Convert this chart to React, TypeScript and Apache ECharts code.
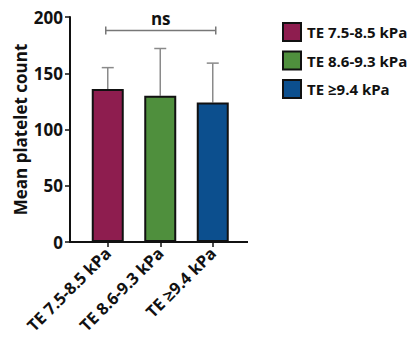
import React, { useEffect, useRef } from "react";
import * as echarts from "echarts";

const categories = ["TE 7.5-8.5 kPa", "TE 8.6-9.3 kPa", "TE ≥9.4 kPa"];
const means = [136, 130, 124];
const upperErr = [155, 172, 159];
const colors = ["#8E1D4F", "#4F8F3D", "#0C4F8E"];
const yTicks = [0, 50, 100, 150, 200];
const sigLabel = "ns";
const sigLevel = 188;

const FONT = "Open Sans";

export default function App() {
  const ref = useRef<HTMLDivElement>(null);
  useEffect(() => {
    if (!ref.current) return;
    const chart = echarts.init(ref.current, undefined, { renderer: "svg" });
    const barSeries = categories.map((name, i) => ({
      name,
      type: "bar",
      barWidth: 32,
      barGap: "-100%",
      data: categories.map((_, j) => (j === i ? means[i] : "-")),
      itemStyle: { color: colors[i], borderColor: "#111", borderWidth: 2 },
      z: 3,
    }));
    const option: any = {
      animation: false,
      backgroundColor: "#fff",
      textStyle: { fontFamily: FONT },
      grid: { left: 81.5, right: 177, top: 17, bottom: 101, containLabel: false },
      legend: {
        orient: "vertical",
        left: 277,
        top: 17,
        itemWidth: 18,
        itemHeight: 18,
        itemGap: 8.5,
        icon: "rect",
        data: categories,
        textStyle: { fontFamily: FONT, fontWeight: "bold", fontSize: 15, color: "#111", padding: [0, 0, 0, 1] },
      },
      xAxis: {
        type: "category",
        data: categories,
        axisLine: { show: false },
        axisTick: { show: true, alignWithLabel: true, length: 5, lineStyle: { color: "#111", width: 1.5 } },
        axisLabel: {
          rotate: 45,
          margin: 8,
          fontFamily: FONT,
          fontWeight: "bold",
          fontSize: 16.5,
          color: "#111",
        },
      },
      yAxis: {
        type: "value",
        min: 0,
        max: 200,
        interval: 50,
        offset: 11.5,
        name: "Mean platelet count",
        nameLocation: "middle",
        nameGap: 41,
        nameTextStyle: { fontFamily: FONT, fontWeight: "bold", fontSize: 17, color: "#111" },
        splitLine: { show: false },
        axisLine: { show: true, lineStyle: { color: "#111", width: 2 } },
        axisTick: { show: true, length: 5, lineStyle: { color: "#111", width: 1.5 } },
        axisLabel: {
          margin: 7,
          fontFamily: FONT,
          fontWeight: "bold",
          fontSize: 17,
          color: "#111",
          formatter: (v: number) => (yTicks.includes(v) ? String(v) : ""),
        },
      },
      series: [
        ...barSeries,
        {
          type: "custom",
          name: "err",
          z: 2,
          clip: false,
          data: categories.map((_, i) => [i, means[i], upperErr[i]]),
          renderItem: (params: any, api: any) => {
            const x = api.value(0);
            const base = api.coord([x, api.value(1)]);
            const top = api.coord([x, api.value(2)]);
            const half = 6;
            const style = { stroke: "#8a8a8a", lineWidth: 1.5 };
            return {
              type: "group",
              children: [
                { type: "line", shape: { x1: base[0], y1: base[1], x2: top[0], y2: top[1] }, style },
                { type: "line", shape: { x1: top[0] - half, y1: top[1], x2: top[0] + half, y2: top[1] }, style },
              ],
            };
          },
        },
        {
          type: "custom",
          name: "sig",
          clip: false,
          z: 4,
          data: [[0, 2, sigLevel]],
          renderItem: (params: any, api: any) => {
            const a = api.coord([api.value(0), api.value(2)]);
            const b = api.coord([api.value(1), api.value(2)]);
            const style = { stroke: "#777", lineWidth: 1.5 };
            return {
              type: "group",
              children: [
                { type: "line", shape: { x1: a[0] - 2, y1: a[1], x2: b[0] + 3, y2: b[1] }, style },
                { type: "line", shape: { x1: a[0] - 2, y1: a[1] - 4, x2: a[0] - 2, y2: a[1] + 4 }, style },
                { type: "line", shape: { x1: b[0] + 3, y1: b[1] - 4, x2: b[0] + 3, y2: b[1] + 4 }, style },
                {
                  type: "text",
                  x: (a[0] + b[0]) / 2 + 0.5,
                  y: a[1] - 4,
                  style: {
                    text: sigLabel,
                    fontFamily: FONT,
                    fontWeight: "bold",
                    fontSize: 17,
                    fill: "#111",
                    align: "center",
                    verticalAlign: "bottom",
                  },
                },
              ],
            };
          },
        },
      ],
      graphic: [
        {
          type: "line",
          shape: { x1: 69, y1: 242, x2: 248, y2: 242 },
          style: { stroke: "#111", lineWidth: 2 },
          z: 10,
        },
      ],
    };
    chart.setOption(option);
    return () => chart.dispose();
  }, []);
  return <div ref={ref} style={{ width: 416, height: 343, margin: -8 }} />;
}
